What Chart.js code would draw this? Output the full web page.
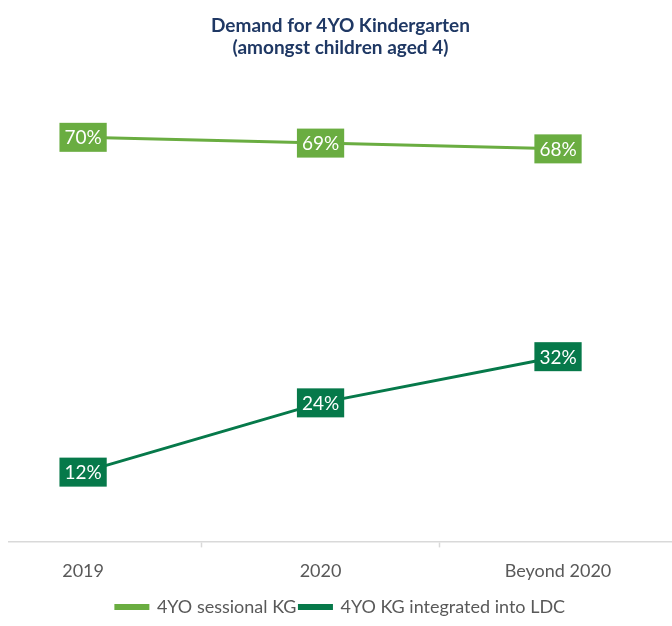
<!DOCTYPE html>
<html>
<head>
<meta charset="utf-8">
<script src="https://cdn.jsdelivr.net/npm/chart.js@4"></script>
<style>
  html, body { margin: 0; padding: 0; background: #fff; }
  #wrap { width: 672px; height: 626px; }
</style>
</head>
<body>
<div id="wrap"><canvas id="demand-chart"></canvas></div>
<script>
// カテゴリと系列
const categories = ['2019', '2020', 'Beyond 2020'];
const sessionalKG = [70, 69, 68];
const integratedLDC = [12, 24, 32];
const seriesNames = ['4YO sessional KG', '4YO KG integrated into LDC'];

const lightGreen = '#6aad41';
const darkGreen = '#06794a';

// 各点の上にラベル枠を描く
const boxLabels = {
    id: 'boxLabels',
    afterDatasetsDraw(chart) {
        const ctx = chart.ctx;
        ctx.save();
        ctx.font = '19px Lato';
        ctx.textAlign = 'center';
        ctx.textBaseline = 'middle';
        chart.data.datasets.forEach((ds, i) => {
            const meta = chart.getDatasetMeta(i);
            meta.data.forEach((pt, j) => {
                const text = ds.data[j].y + '%';
                const w = ctx.measureText(text).width + 10;
                const h = 29;
                ctx.fillStyle = ds.borderColor;
                ctx.fillRect(pt.x - w / 2, pt.y - h / 2, w, h);
                ctx.fillStyle = '#ffffff';
                ctx.fillText(text, pt.x, pt.y + 1);
            });
        });
        ctx.restore();
    }
};

const toPoints = arr => arr.map((v, i) => ({ x: i, y: v }));

new Chart(document.getElementById('demand-chart'), {
    type: 'line',
    data: {
        datasets: [{
            label: seriesNames[0],
            data: toPoints(sessionalKG),
            borderColor: lightGreen,
            backgroundColor: lightGreen,
            borderWidth: 3,
            pointRadius: 0
        }, {
            label: seriesNames[1],
            data: toPoints(integratedLDC),
            borderColor: darkGreen,
            backgroundColor: darkGreen,
            borderWidth: 3,
            pointRadius: 0
        }]
    },
    options: {
        responsive: true,
        maintainAspectRatio: false,
        animation: false,
        layout: { padding: { left: 9, right: 0, top: 0, bottom: 0 } },
        scales: {
            x: {
                type: 'linear',
                min: -0.312,
                max: 2.48,
                afterBuildTicks: axis => {
                    axis.ticks = [0, 0.5, 1, 1.5, 2].map(v => ({ value: v }));
                },
                ticks: {
                    autoSkip: false,
                    maxRotation: 0,
                    padding: 13,
                    color: '#595959',
                    font: { family: 'Lato', size: 18 },
                    callback: v => Number.isInteger(v) ? categories[v] : ''
                },
                grid: {
                    drawOnChartArea: false,
                    tickLength: 6,
                    tickWidth: 1.5,
                    color: c => (c.tick && !Number.isInteger(c.tick.value)) ? '#d9d9d9' : 'rgba(0,0,0,0)'
                },
                border: { display: true, color: '#d9d9d9', width: 1.5 }
            },
            y: {
                display: false,
                min: 0,
                max: 80
            }
        },
        plugins: {
            title: {
                display: true,
                text: ['Demand for 4YO Kindergarten', '(amongst children aged 4)'],
                color: '#1f3864',
                font: { family: 'Lato', size: 19, weight: 'bold', lineHeight: 1.2 },
                padding: { top: 14, bottom: 20 }
            },
            legend: {
                position: 'bottom',
                labels: {
                    boxWidth: 32,
                    boxHeight: 3,
                    padding: 3,
                    color: '#595959',
                    font: { family: 'Lato', size: 18 }
                }
            },
            tooltip: { enabled: false }
        }
    },
    plugins: [boxLabels]
});
</script>
</body>
</html>
